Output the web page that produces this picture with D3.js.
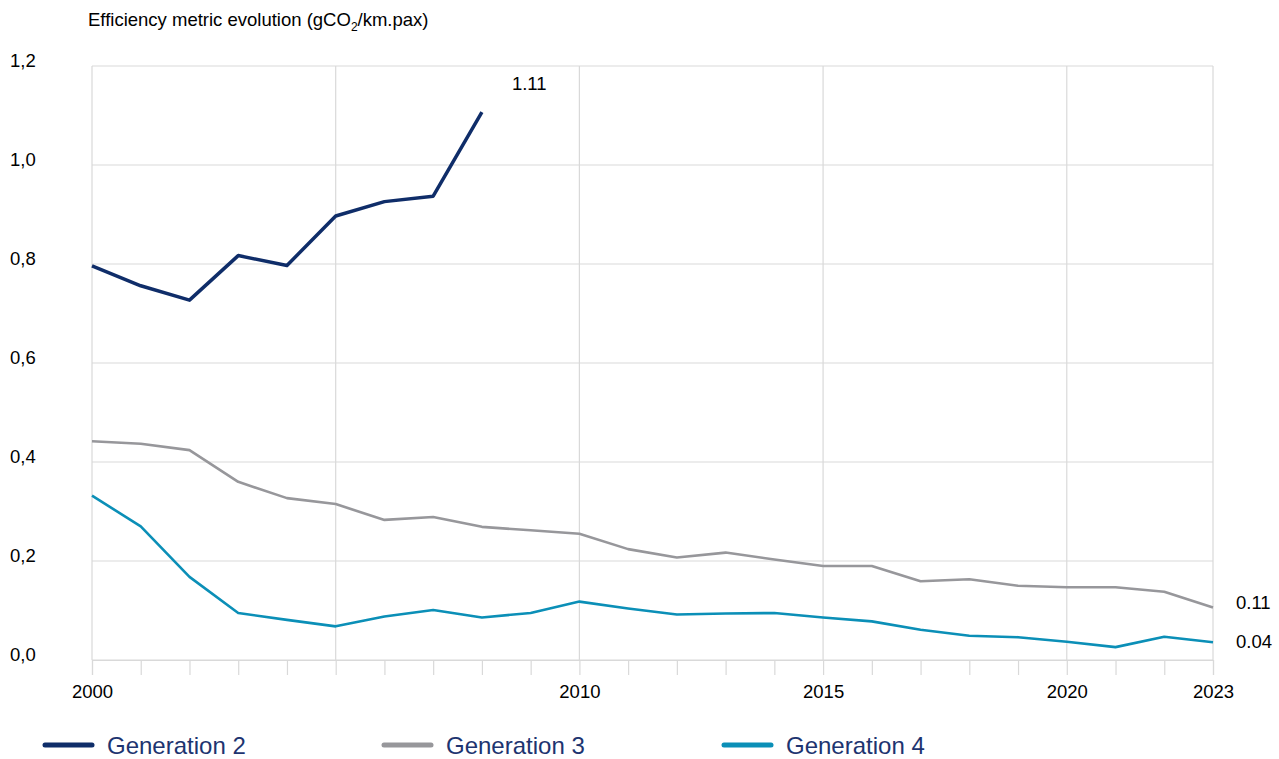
<!DOCTYPE html>
<html lang="en">
<head>
<meta charset="UTF-8">
<title>Efficiency metric evolution</title>
<script src="https://d3js.org/d3.v7.min.js"></script>
<style>
  body { margin: 0; background: #fff; }
  text { font-family: "Liberation Sans", Arial, sans-serif; }
</style>
</head>
<body>
<svg id="chart" width="1279" height="759"></svg>
<script>
// Data
var years = d3.range(2000, 2024);
var gen2 = [0.796, 0.756, 0.727, 0.817, 0.797, 0.897, 0.926, 0.937, 1.107];
var gen3 = [0.442, 0.437, 0.424, 0.360, 0.327, 0.315, 0.283, 0.289, 0.269, 0.262, 0.255,
            0.224, 0.207, 0.217, 0.203, 0.190, 0.190, 0.159, 0.163, 0.150, 0.147, 0.147, 0.138, 0.106];
var gen4 = [0.332, 0.270, 0.168, 0.095, 0.081, 0.068, 0.088, 0.101, 0.086, 0.095, 0.118,
            0.104, 0.092, 0.094, 0.095, 0.086, 0.078, 0.061, 0.049, 0.046, 0.037, 0.026, 0.047, 0.036];
var seriesNames = ["Generation 2", "Generation 3", "Generation 4"];
var seriesColors = ["#0f2d69", "#97979b", "#0b8fb7"];
var endLabels = ["1.11", "0.11", "0.04"];
var yTicks = [0, 0.2, 0.4, 0.6, 0.8, 1.0, 1.2];
var xLabelYears = [2000, 2010, 2015, 2020, 2023];
var xGridYears = [2000, 2005, 2010, 2015, 2020, 2023];

var svg = d3.select("#chart");

var x = d3.scaleLinear().domain([2000, 2023]).range([92, 1213]);
var y = d3.scaleLinear().domain([0, 1.2]).range([660, 66]);

var grid = "#d9d9d9";
var fs = 18.5;

// horizontal gridlines
svg.append("g").selectAll("line")
    .data(yTicks)
    .enter().append("line")
    .attr("x1", x(2000)).attr("x2", x(2023))
    .attr("y1", function(d) { return y(d); })
    .attr("y2", function(d) { return y(d); })
    .attr("stroke", grid).attr("stroke-width", 1.2);

// vertical gridlines
svg.append("g").selectAll("line")
    .data(xGridYears)
    .enter().append("line")
    .attr("x1", function(d) { return x(d); })
    .attr("x2", function(d) { return x(d); })
    .attr("y1", y(1.2)).attr("y2", y(0))
    .attr("stroke", grid).attr("stroke-width", 1.2);

// x axis with a tick every year
var xAxis = d3.axisBottom(x)
    .tickValues(years)
    .tickSize(15)
    .tickFormat(function(d) { return xLabelYears.indexOf(d) >= 0 ? d : ""; });

var gx = svg.append("g")
    .attr("transform", "translate(0," + y(0) + ")")
    .call(xAxis);
gx.select(".domain").attr("stroke", grid).attr("stroke-width", 1.2);
gx.selectAll(".tick line").attr("stroke", grid).attr("stroke-width", 1.2);
gx.selectAll(".tick text")
    .attr("y", 25)
    .attr("fill", "#000")
    .style("font-size", fs + "px")
    .style("font-family", "Liberation Sans, Arial, sans-serif");

// y labels
svg.append("g").selectAll("text")
    .data(yTicks)
    .enter().append("text")
    .attr("x", 10)
    .attr("y", function(d) { return y(d) + 1; })
    .attr("font-size", fs)
    .attr("fill", "#000")
    .text(function(d) { return d3.format(".1f")(d).replace(".", ","); });

// title
var title = svg.append("text")
    .attr("x", 88).attr("y", 26)
    .attr("font-size", fs)
    .attr("fill", "#000");
title.append("tspan").text("Efficiency metric evolution (gCO");
title.append("tspan").attr("font-size", 12).attr("dy", 5).text("2");
title.append("tspan").attr("dy", -5).text("/km.pax)");

// lines
var line = d3.line()
    .x(function(d, i) { return x(years[i]); })
    .y(function(d) { return y(d); });

var allSeries = [gen2, gen3, gen4];
var widths = [3.5, 2.6, 2.6];

allSeries.forEach(function(s, k) {
    svg.append("path")
        .datum(s)
        .attr("fill", "none")
        .attr("stroke", seriesColors[k])
        .attr("stroke-width", widths[k])
        .attr("stroke-linejoin", "round")
        .attr("d", line);
});

// end labels
svg.append("text").attr("x", x(2008) + 30).attr("y", y(gen2[8]) - 22)
    .attr("font-size", fs).text(endLabels[0]);
svg.append("text").attr("x", x(2023) + 23).attr("y", y(gen3[23]) + 1)
    .attr("font-size", fs).text(endLabels[1]);
svg.append("text").attr("x", x(2023) + 23).attr("y", y(gen4[23]) + 6)
    .attr("font-size", fs).text(endLabels[2]);

// legend
var legendX = [45, 384, 724];
var legend = svg.append("g").selectAll("g")
    .data(seriesNames)
    .enter().append("g")
    .attr("transform", function(d, i) { return "translate(" + legendX[i] + ",745)"; });

legend.append("line")
    .attr("x1", 0).attr("x2", 47)
    .attr("y1", 0).attr("y2", 0)
    .attr("stroke", function(d, i) { return seriesColors[i]; })
    .attr("stroke-width", 5)
    .attr("stroke-linecap", "round");

legend.append("text")
    .attr("x", 62).attr("y", 9)
    .attr("font-size", 24)
    .attr("fill", "#1d3470")
    .text(function(d) { return d; });
</script>
</body>
</html>
